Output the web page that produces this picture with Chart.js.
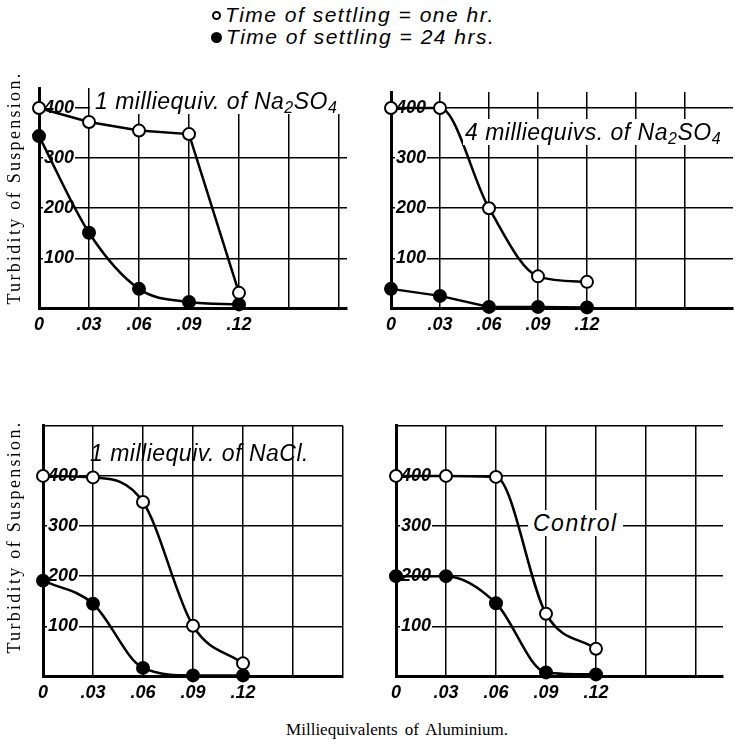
<!DOCTYPE html>
<html>
<head>
<meta charset="utf-8">
<script src="https://cdn.jsdelivr.net/npm/chart.js@4.4.1/dist/chart.umd.min.js"></script>
<style>
html,body{margin:0;padding:0;background:#fff;}
#wrap{position:relative;width:741px;height:746px;overflow:hidden;background:#fff;}
canvas{position:absolute;}
.hand{position:absolute;font-family:"Liberation Sans",Arial,sans-serif;font-style:italic;color:#000;white-space:nowrap;}
.ptitle{font-size:23px;letter-spacing:0.5px;line-height:26px;height:26px;}
.ptitle sub{font-size:16px;vertical-align:-4px;line-height:0;}
.white{background:#fff;}
.leg{font-size:21px;letter-spacing:1.5px;line-height:22px;}
.dot{display:inline-block;box-sizing:border-box;border-radius:50%;vertical-align:middle;margin-right:4px;position:relative;top:-1px;}
.ytitle{position:absolute;font-family:"Liberation Serif","Times New Roman",serif;font-size:18px;letter-spacing:2.3px;width:300px;text-align:center;line-height:20px;transform:rotate(-90deg);white-space:nowrap;color:#000;}
.xtitle{position:absolute;font-family:"Liberation Serif","Times New Roman",serif;font-size:17px;word-spacing:3px;width:300px;text-align:center;line-height:20px;white-space:nowrap;color:#000;}
</style>
</head>
<body>
<div id="wrap">
  <div class="hand leg" style="left:212px;top:4px;"><span class="dot" style="width:9px;height:9px;border:2px solid #000;background:#fff;"></span>Time of settling = one hr.</div>
  <div class="hand leg" style="left:211px;top:26px;"><span class="dot" style="width:11px;height:11px;background:#000;"></span>Time of settling = 24 hrs.</div>

  <canvas id="c1" width="340" height="290" style="left:20px;top:60px;"></canvas>
  <canvas id="c2" width="366" height="290" style="left:375px;top:60px;"></canvas>
  <canvas id="c3" width="340" height="310" style="left:20px;top:410px;"></canvas>
  <canvas id="c4" width="366" height="310" style="left:375px;top:410px;"></canvas>

  <div class="hand ptitle white" style="left:90px;top:88px;width:260px;padding-left:5px;box-sizing:border-box;">1 milliequiv. of Na<sub>2</sub>SO<sub>4</sub></div>
  <div class="hand ptitle white" style="left:463px;top:119px;width:276px;padding-left:2px;box-sizing:border-box;">4 milliequivs. of Na<sub>2</sub>SO<sub>4</sub></div>
  <div class="hand ptitle" style="left:90px;top:440px;">1 milliequiv. of NaCl.</div>
  <div class="hand ptitle white" style="left:528px;top:510px;padding:0 5px;letter-spacing:1.5px;">Control</div>

  <div class="ytitle" style="left:-136px;top:178px;">Turbidity of Suspension.</div>
  <div class="ytitle" style="left:-136px;top:527px;">Turbidity of Suspension.</div>
  <div class="xtitle" style="left:247px;top:720px;">Milliequivalents of Aluminium.</div>
</div>
<script>
// ---- data ----
const xValues = [0, 0.03, 0.06, 0.09, 0.12];
const xGridValues = [0, 0.03, 0.06, 0.09, 0.12, 0.15, 0.18];
const xTickLabels = ['0', '.03', '.06', '.09', '.12'];
const yTickLabels = ['100', '200', '300', '400'];
const yGridTop = [0, 100, 200, 300, 400];
const yGridBottom = [0, 100, 200, 300, 400, 500];

// 1 milliequiv. of Na2SO4
const na2so4One_hour = [400, 372, 355, 348, 31];
const na2so4One_day  = [344, 151, 39, 13, 8];
// 4 milliequivs. of Na2SO4
const na2so4Four_hour = [400, 400, 200, 64, 53];
const na2so4Four_day  = [39, 25, 3, 3, 2];
// 1 milliequiv. of NaCl
const nacl_hour = [400, 397, 348, 101, 26];
const nacl_day  = [191, 145, 17, 2, 2];
// Control
const control_hour = [400, 400, 398, 125, 55];
const control_day  = [200, 200, 146, 8, 4];

const tickFont = {family: '"Liberation Sans", Arial, sans-serif', style: 'italic', weight: 'bold', size: 18};

function pts(vals) { return xValues.map((x, i) => ({x: x, y: vals[i]})); }

function makeChart(id, hourVals, dayVals, xMax, yMax, yGrid, pad, hourSmooth, daySmooth) {
  const ds = (vals, open, smooth) => ({
    data: pts(vals),
    borderColor: '#000',
    borderWidth: 2.5,
    pointRadius: 6,
    pointHoverRadius: 6,
    pointBackgroundColor: open ? '#fff' : '#000',
    pointBorderColor: '#000',
    pointBorderWidth: 2,
    cubicInterpolationMode: smooth ? 'monotone' : 'default',
    tension: 0,
    fill: false,
    clip: false
  });
  return new Chart(document.getElementById(id), {
    type: 'line',
    data: { datasets: [ ds(hourVals, true, hourSmooth), ds(dayVals, false, daySmooth) ] },
    options: {
      responsive: false,
      animation: false,
      devicePixelRatio: 1,
      layout: { padding: pad },
      plugins: { legend: {display: false}, tooltip: {enabled: false}, title: {display: false} },
      scales: {
        x: {
          type: 'linear', min: 0, max: xMax,
          afterBuildTicks: s => { s.ticks = xGridValues.map(v => ({value: v})); },
          grid: {color: '#000', lineWidth: 1.5, drawTicks: false},
          border: {color: '#000', width: 3},
          ticks: {
            autoSkip: false, maxRotation: 0, minRotation: 0, padding: 6, color: '#000', font: tickFont,
            callback: (v, i) => (xTickLabels[i] !== undefined ? xTickLabels[i] : '')
          }
        },
        y: {
          type: 'linear', min: 0, max: yMax,
          afterBuildTicks: s => { s.ticks = yGrid.map(v => ({value: v})); },
          grid: {color: '#000', lineWidth: 1.5, drawTicks: false},
          border: {color: '#000', width: 3},
          ticks: {
            mirror: true, padding: 5, color: '#000', font: tickFont,
            showLabelBackdrop: true,
            backdropColor: ctx => (ctx.index > 0 && ctx.index <= yTickLabels.length) ? '#fff' : 'rgba(0,0,0,0)',
            backdropPadding: {left: 1, right: 1, top: 0, bottom: 0},
            callback: (v, i) => (i > 0 && yTickLabels[i - 1] !== undefined ? yTickLabels[i - 1] : '')
          }
        }
      }
    }
  });
}

makeChart('c1', na2so4One_hour, na2so4One_day, 0.1848, 440, yGridTop, {left: 9, top: 28, right: 13, bottom: 8}, false, true);
makeChart('c2', na2so4Four_hour, na2so4Four_day, 0.2094, 432, yGridTop, {left: 6, top: 32, right: 1, bottom: 8}, true, false);
makeChart('c3', nacl_hour, nacl_day, 0.18, 500, yGridBottom, {left: 13, top: 15, right: 17, bottom: 10}, true, true);
makeChart('c4', control_hour, control_day, 0.1962, 500, yGridBottom, {left: 11, top: 15, right: 18, bottom: 10}, true, true);
</script>
</body>
</html>
